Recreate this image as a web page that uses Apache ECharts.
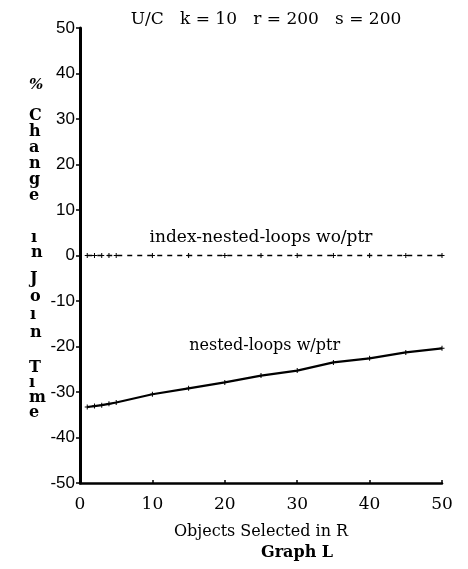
<!DOCTYPE html>
<html>
<head>
<meta charset="utf-8">
<script src="https://cdn.jsdelivr.net/npm/echarts@6/dist/echarts.min.js"></script>
<style>
  html, body { margin: 0; padding: 0; background: #fff; }
  #chart { width: 468px; height: 569px; }
</style>
</head>
<body>
<div id="chart"></div>
<script>
// objetos selecionados em R
const objetos = [1, 2, 3, 4, 5, 10, 15, 20, 25, 30, 35, 40, 45, 50];
// % de mudança no tempo de junção
const indexNestedWoPtr = [0, 0, 0, 0, 0, 0, 0, 0, 0, 0, 0, 0, 0, 0];
const nestedWPtr = [-33.3, -33.1, -32.9, -32.6, -32.3, -30.5, -29.2, -27.9, -26.4, -25.3, -23.5, -22.6, -21.3, -20.4];
const xTicks = [0, 10, 20, 30, 40, 50];
const yTicks = [-50, -40, -30, -20, -10, 0, 10, 20, 30, 40, 50];

const serif = '"DejaVu Serif", "Liberation Serif", serif';
const sans = '"Liberation Sans", Arial, sans-serif';

const chart = echarts.init(document.getElementById('chart'));

// marcador em forma de "+"
const plus = 'path://M2,0 L3,0 L3,2 L5,2 L5,3 L3,3 L3,5 L2,5 L2,3 L0,3 L0,2 L2,2 Z';

const option = {
  backgroundColor: '#fff',
  animation: false,
  title: {
    text: 'U/C   k = 10   r = 200   s = 200',
    left: 261,
    top: 6,
    textAlign: 'center',
    textStyle: { fontFamily: serif, fontSize: 17, fontWeight: 'normal', color: '#000' },
  },
  grid: { left: 80, right: 26, top: 28, bottom: 86 },
  xAxis: {
    type: 'value',
    min: xTicks[0],
    max: xTicks[xTicks.length - 1],
    interval: 10,
    splitLine: { show: false },
    axisLine: { onZero: false, lineStyle: { color: '#000', width: 2.5 } },
    axisTick: { inside: true, length: 3, lineStyle: { color: '#000', width: 1.5 } },
    axisLabel: { color: '#000', fontFamily: serif, fontSize: 17, margin: 13 },
    name: 'Objects Selected in R',
    nameLocation: 'middle',
    nameGap: 41,
    nameTextStyle: { color: '#000', fontFamily: serif, fontSize: 16 },
  },
  yAxis: {
    type: 'value',
    min: yTicks[0],
    max: yTicks[yTicks.length - 1],
    interval: 10,
    splitLine: { show: false },
    axisLine: { onZero: false, lineStyle: { color: '#000', width: 3 } },
    axisTick: { length: 4, lineStyle: { color: '#000', width: 1.5 } },
    axisLabel: { color: '#000', fontFamily: sans, fontSize: 17, margin: 5 },
  },
  graphic: [
    { type: 'text', left: 29, top: 78, style: { text: '%', font: 'bold italic 15px ' + serif, fill: '#000' } },
    { type: 'text', left: 29, top: 108, style: { text: 'C\nh\na\nn\ng\ne', font: 'bold 16px ' + serif, lineHeight: 16, fill: '#000' } },
    { type: 'text', left: 31, top: 230, style: { text: 'ı\nn', font: 'bold 16px ' + serif, lineHeight: 15, fill: '#000' } },
    { type: 'text', left: 30, top: 270, style: { text: 'J\no\nı\nn', font: 'bold 16px ' + serif, lineHeight: 18, fill: '#000' } },
    { type: 'text', left: 29, top: 360, style: { text: 'T\nı\nm\ne', font: 'bold 16px ' + serif, lineHeight: 15, fill: '#000' } },
    { type: 'text', left: 261, top: 545, style: { text: 'Graph L', font: 'bold 16px ' + serif, fill: '#000', align: 'center' } },
  ],
  series: [
    {
      name: 'index-nested-loops wo/ptr',
      type: 'line',
      data: objetos.map((x, i) => [x, indexNestedWoPtr[i]]),
      symbol: plus,
      symbolSize: 5,
      itemStyle: { color: '#000' },
      lineStyle: { color: '#000', width: 1.5, type: [5, 5] },
      markPoint: {
        symbol: 'circle',
        symbolSize: 0,
        data: [{ coord: [25, 0], value: 'index-nested-loops wo/ptr' }],
        label: {
          show: true,
          position: 'top',
          distance: 9,
          formatter: '{c}',
          color: '#000',
          fontFamily: serif,
          fontSize: 17,
        },
      },
    },
    {
      name: 'nested-loops w/ptr',
      type: 'line',
      data: objetos.map((x, i) => [x, nestedWPtr[i]]),
      symbol: plus,
      symbolSize: 5,
      itemStyle: { color: '#000' },
      lineStyle: { color: '#000', width: 2.2 },
      markPoint: {
        symbol: 'circle',
        symbolSize: 0,
        data: [{ coord: [25.5, -19.8], value: 'nested-loops w/ptr' }],
        label: {
          show: true,
          position: 'inside',
          formatter: '{c}',
          color: '#000',
          fontFamily: serif,
          fontSize: 16,
        },
      },
    },
  ],
};

chart.setOption(option);
</script>
</body>
</html>
